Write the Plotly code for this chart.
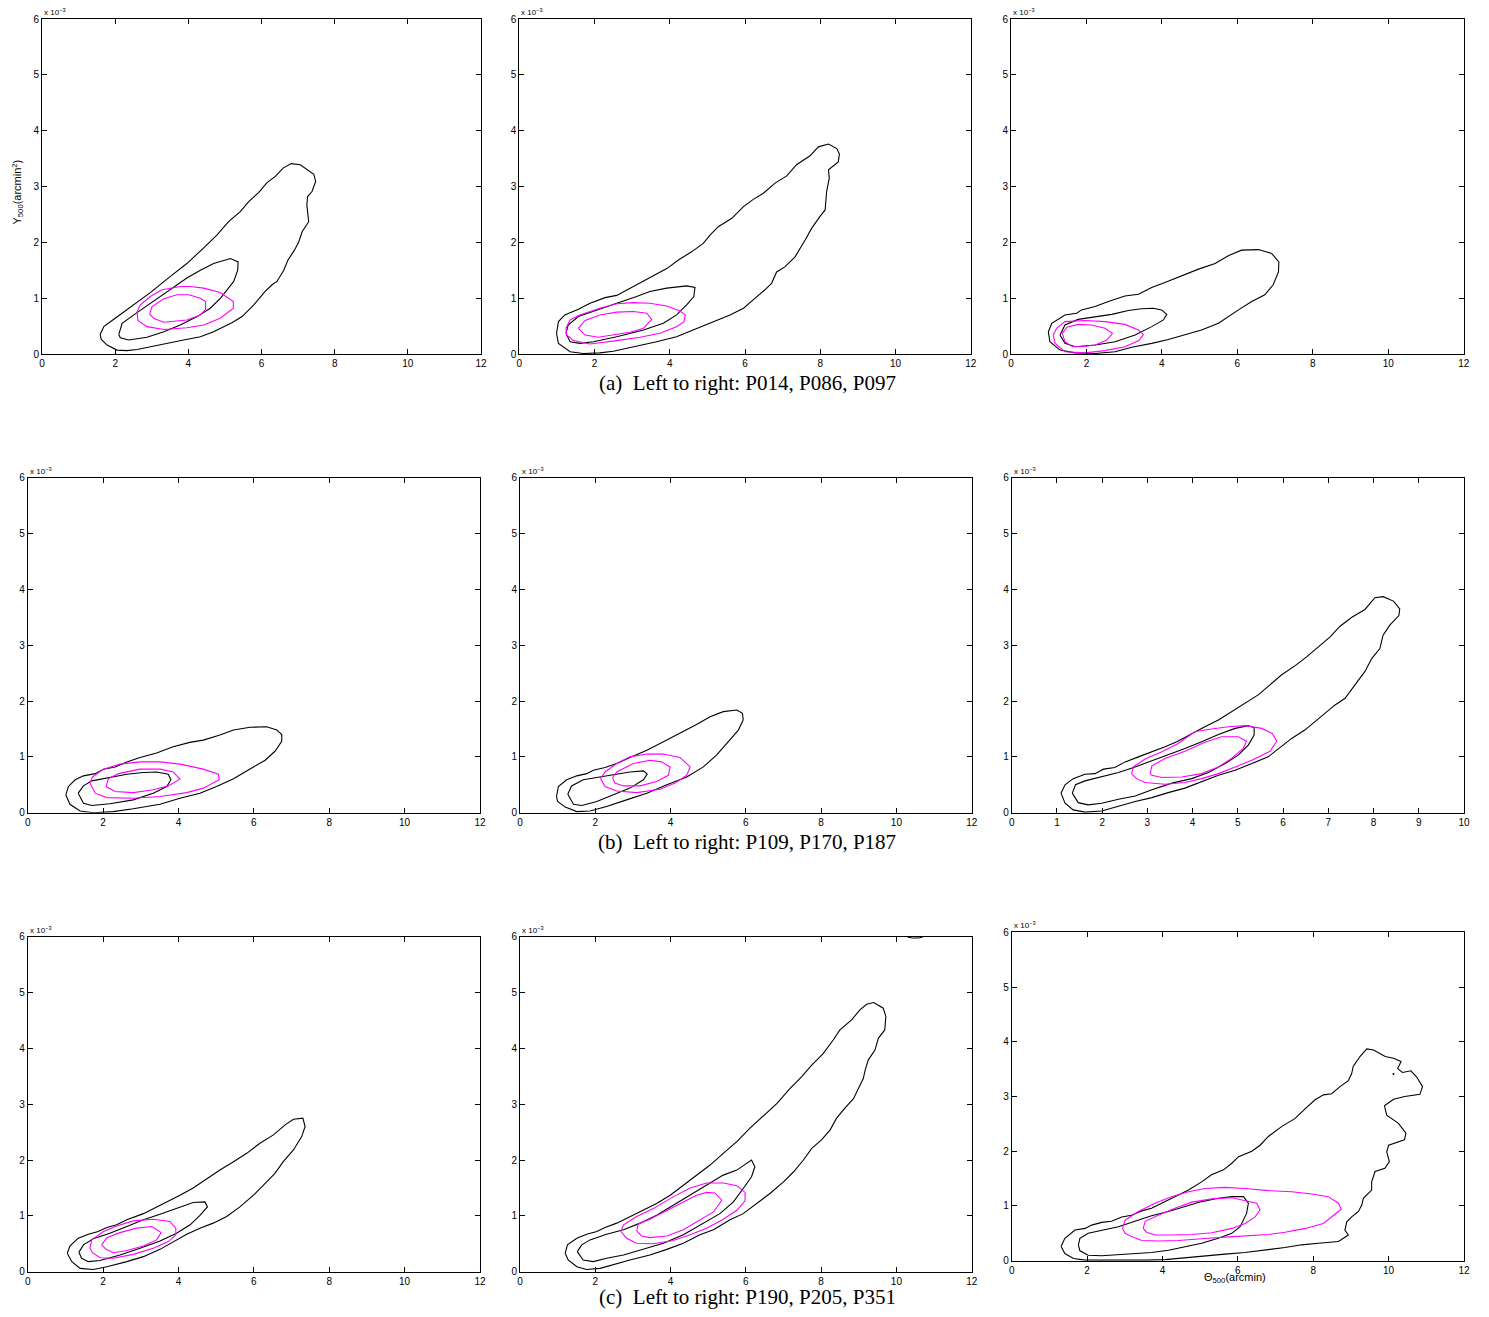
import plotly.graph_objects as go

# ---------------- DATA (theta500 [arcmin], Y500 [1e-3 arcmin^2]) ----------------
P014_black_outer = [(1.59,0.35),(1.69,0.49),(2.0,0.64),(2.51,0.88),(2.96,1.10),(3.51,1.39),(3.96,1.62),(4.37,1.87),(4.78,2.13),(5.10,2.37),(5.42,2.55),(5.65,2.73),(5.92,2.89),(6.15,3.07),(6.38,3.18),(6.59,3.33),(6.81,3.41),(7.06,3.39),(7.43,3.22),(7.48,3.09),(7.38,2.91),(7.26,2.82),(7.24,2.67),(7.29,2.37),(7.11,2.19),(7.02,2.01),(6.90,1.86),(6.72,1.68),(6.61,1.50),(6.42,1.30),(6.29,1.24),(6.10,1.12),(5.79,0.88),(5.47,0.67),(5.19,0.56),(4.69,0.40),(4.33,0.31),(3.87,0.25),(3.42,0.19),(2.96,0.14),(2.60,0.08),(2.32,0.06),(2.05,0.07),(1.78,0.16),(1.62,0.26)]
P014_black_inner = [(2.10,0.35),(2.19,0.55),(2.51,0.70),(2.96,0.90),(3.51,1.15),(3.96,1.36),(4.33,1.50),(4.69,1.62),(5.15,1.71),(5.36,1.65),(5.35,1.50),(5.24,1.30),(5.06,1.15),(4.88,1.00),(4.60,0.82),(4.24,0.67),(3.78,0.52),(3.33,0.40),(2.87,0.30),(2.37,0.25),(2.14,0.29)]
P014_mag_outer = [(2.60,0.76),(2.69,0.88),(2.96,1.03),(3.28,1.15),(3.78,1.21),(4.05,1.21),(4.42,1.18),(4.87,1.10),(5.23,0.94),(5.23,0.82),(4.87,0.64),(4.42,0.52),(3.96,0.47),(3.33,0.44),(2.87,0.49),(2.62,0.60)]
P014_mag_inner = [(2.94,0.72),(3.01,0.85),(3.33,0.99),(3.69,1.06),(4.01,1.06),(4.33,1.00),(4.47,0.94),(4.47,0.80),(4.33,0.70),(3.96,0.61),(3.33,0.57),(3.05,0.64)]

P086_black_outer = [(0.99,0.37),(1.04,0.58),(1.21,0.70),(1.57,0.80),(1.88,0.91),(2.28,1.01),(2.59,1.05),(3.03,1.21),(3.47,1.36),(3.92,1.53),(4.27,1.70),(4.58,1.83),(4.89,1.98),(5.07,2.13),(5.29,2.28),(5.65,2.43),(5.96,2.64),(6.22,2.77),(6.49,2.88),(6.80,3.06),(7.11,3.19),(7.37,3.39),(7.73,3.55),(7.95,3.71),(8.22,3.76),(8.44,3.68),(8.51,3.58),(8.48,3.44),(8.22,3.30),(8.24,3.15),(8.17,2.91),(8.13,2.58),(7.99,2.46),(7.77,2.25),(7.60,2.04),(7.33,1.74),(7.06,1.56),(6.84,1.47),(6.71,1.27),(6.53,1.15),(6.27,1.00),(5.96,0.82),(5.60,0.70),(5.16,0.58),(4.72,0.46),(4.18,0.31),(3.65,0.22),(3.03,0.13),(2.50,0.05),(2.14,0.02),(1.70,0.01),(1.35,0.04),(1.04,0.19)]
P086_black_inner = [(1.24,0.37),(1.30,0.52),(1.57,0.67),(2.06,0.79),(2.59,0.91),(3.12,1.03),(3.47,1.12),(3.92,1.18),(4.45,1.22),(4.67,1.19),(4.64,1.03),(4.45,0.88),(4.18,0.70),(3.83,0.55),(3.30,0.43),(2.59,0.31),(1.97,0.22),(1.61,0.19),(1.35,0.22)]
P086_mag_outer = [(1.24,0.46),(1.35,0.61),(1.61,0.70),(2.14,0.82),(2.59,0.90),(3.03,0.92),(3.47,0.91),(3.92,0.86),(4.27,0.77),(4.41,0.70),(4.38,0.58),(4.18,0.49),(3.74,0.37),(3.21,0.30),(2.59,0.24),(1.88,0.18),(1.44,0.24),(1.26,0.34)]
P086_mag_inner = [(1.57,0.46),(1.75,0.60),(2.14,0.70),(2.59,0.75),(3.03,0.76),(3.39,0.73),(3.52,0.62),(3.30,0.46),(2.94,0.39),(2.50,0.34),(2.10,0.30),(1.75,0.34)]

P097_black_outer = [(0.99,0.40),(1.08,0.55),(1.43,0.70),(1.74,0.73),(1.87,0.79),(2.23,0.85),(2.58,0.94),(3.02,1.04),(3.38,1.07),(3.73,1.19),(4.08,1.28),(4.52,1.40),(4.97,1.52),(5.41,1.62),(5.76,1.76),(6.11,1.86),(6.56,1.87),(6.91,1.80),(7.10,1.65),(7.09,1.47),(6.95,1.24),(6.73,1.06),(6.38,0.94),(6.03,0.79),(5.50,0.55),(5.05,0.43),(4.61,0.34),(4.17,0.26),(3.73,0.19),(3.20,0.12),(2.76,0.04),(2.23,0.01),(1.70,0.02),(1.30,0.07),(1.03,0.22)]
P097_black_inner = [(1.30,0.34),(1.43,0.52),(1.78,0.62),(2.23,0.67),(2.67,0.71),(3.11,0.78),(3.46,0.81),(3.77,0.82),(3.99,0.79),(4.13,0.71),(4.04,0.61),(3.73,0.49),(3.29,0.34),(2.76,0.22),(2.23,0.16),(1.70,0.13),(1.43,0.19)]
P097_mag_outer = [(1.12,0.34),(1.21,0.46),(1.43,0.58),(1.96,0.60),(2.49,0.58),(3.02,0.53),(3.38,0.43),(3.51,0.35),(3.39,0.24),(3.02,0.13),(2.49,0.06),(1.96,0.02),(1.43,0.04),(1.17,0.19)]
P097_mag_inner = [(1.36,0.37),(1.48,0.48),(1.78,0.53),(2.14,0.52),(2.49,0.46),(2.69,0.37),(2.54,0.25),(2.23,0.16),(1.87,0.13),(1.61,0.14),(1.43,0.22)]

P109_black_outer = [(1.01,0.32),(1.08,0.47),(1.26,0.59),(1.48,0.66),(1.79,0.70),(2.01,0.78),(2.32,0.82),(2.63,0.91),(2.98,0.99),(3.42,1.07),(3.86,1.18),(4.30,1.26),(4.66,1.30),(5.10,1.39),(5.46,1.48),(5.90,1.53),(6.34,1.54),(6.61,1.48),(6.74,1.40),(6.74,1.28),(6.56,1.10),(6.30,0.94),(5.99,0.82),(5.46,0.61),(5.01,0.47),(4.57,0.35),(4.04,0.26),(3.51,0.15),(2.80,0.07),(2.27,0.02),(1.74,0.00),(1.39,0.03),(1.12,0.15)]
P109_black_inner = [(1.34,0.35),(1.48,0.48),(1.70,0.57),(2.18,0.63),(2.63,0.69),(3.07,0.72),(3.42,0.73),(3.73,0.69),(3.80,0.59),(3.69,0.47),(3.33,0.35),(2.80,0.23),(2.18,0.16),(1.70,0.13),(1.48,0.17)]
P109_mag_outer = [(1.65,0.53),(1.72,0.64),(2.01,0.78),(2.45,0.87),(2.98,0.91),(3.51,0.91),(4.04,0.87),(4.66,0.78),(5.06,0.69),(5.08,0.59),(4.66,0.44),(4.22,0.36),(3.51,0.29),(2.80,0.26),(2.10,0.27),(1.79,0.35)]
P109_mag_inner = [(2.08,0.47),(2.14,0.61),(2.41,0.70),(2.98,0.78),(3.51,0.78),(3.86,0.73),(4.04,0.60),(3.73,0.48),(3.33,0.41),(2.80,0.36),(2.32,0.38)]

P170_black_outer = [(0.97,0.29),(1.02,0.47),(1.24,0.59),(1.51,0.66),(1.77,0.70),(1.95,0.76),(2.26,0.81),(2.57,0.88),(2.92,0.99),(3.37,1.12),(3.81,1.27),(4.25,1.42),(4.69,1.58),(5.05,1.72),(5.40,1.81),(5.76,1.84),(5.91,1.78),(5.93,1.66),(5.80,1.48),(5.53,1.27),(5.22,1.03),(4.87,0.82),(4.43,0.64),(3.90,0.50),(3.37,0.35),(2.83,0.23),(2.30,0.11),(1.86,0.03),(1.51,0.02),(1.20,0.10),(1.00,0.20)]
P170_black_inner = [(1.27,0.33),(1.37,0.48),(1.68,0.59),(2.13,0.64),(2.57,0.70),(2.92,0.73),(3.28,0.75),(3.38,0.69),(3.28,0.59),(2.92,0.44),(2.48,0.32),(2.04,0.20),(1.64,0.13),(1.42,0.15)]
P170_mag_outer = [(2.14,0.61),(2.26,0.73),(2.57,0.88),(2.92,1.00),(3.37,1.05),(3.81,1.05),(4.25,0.99),(4.52,0.82),(4.43,0.67),(4.12,0.53),(3.72,0.42),(3.10,0.36),(2.57,0.39),(2.26,0.47)]
P170_mag_inner = [(2.46,0.63),(2.57,0.73),(3.01,0.88),(3.45,0.94),(3.76,0.91),(3.99,0.82),(3.94,0.67),(3.63,0.56),(3.19,0.48),(2.75,0.48),(2.52,0.53)]

P187_black_outer = [(1.09,0.35),(1.18,0.50),(1.36,0.61),(1.62,0.69),(1.84,0.70),(2.03,0.78),(2.28,0.81),(2.51,0.91),(2.80,1.00),(3.10,1.09),(3.39,1.18),(3.65,1.27),(3.98,1.42),(4.27,1.54),(4.57,1.66),(4.86,1.81),(5.16,1.96),(5.45,2.11),(5.71,2.29),(5.97,2.47),(6.26,2.63),(6.52,2.79),(6.78,2.97),(7.04,3.15),(7.26,3.34),(7.52,3.50),(7.81,3.64),(8.03,3.85),(8.21,3.87),(8.44,3.79),(8.58,3.65),(8.56,3.53),(8.36,3.36),(8.21,3.18),(8.14,2.94),(7.96,2.76),(7.81,2.53),(7.59,2.29),(7.37,2.05),(7.15,1.93),(6.93,1.78),(6.71,1.63),(6.48,1.48),(6.19,1.33),(5.90,1.15),(5.67,1.00),(5.31,0.88),(4.94,0.76),(4.57,0.67),(4.20,0.56),(3.83,0.44),(3.46,0.36),(3.10,0.27),(2.73,0.20),(2.36,0.11),(1.99,0.03),(1.62,0.01),(1.36,0.05),(1.18,0.17)]
P187_black_inner = [(1.34,0.35),(1.41,0.50),(1.62,0.57),(1.99,0.64),(2.36,0.72),(2.73,0.82),(3.10,0.93),(3.46,1.03),(3.83,1.15),(4.20,1.27),(4.57,1.40),(4.94,1.51),(5.23,1.56),(5.36,1.52),(5.36,1.39),(5.23,1.21),(5.01,1.03),(4.72,0.88),(4.35,0.72),(3.98,0.61),(3.54,0.53),(3.10,0.41),(2.73,0.30),(2.36,0.24),(1.99,0.17),(1.69,0.14),(1.47,0.18)]
P187_mag_outer = [(2.65,0.70),(2.69,0.82),(2.95,0.96),(3.32,1.09),(3.68,1.24),(4.05,1.45),(4.42,1.50),(4.79,1.54),(5.16,1.56),(5.53,1.51),(5.76,1.42),(5.86,1.28),(5.71,1.10),(5.31,0.94),(4.94,0.82),(4.57,0.70),(4.20,0.61),(3.83,0.54),(3.39,0.51),(2.95,0.54),(2.76,0.61)]
P187_mag_inner = [(3.06,0.70),(3.10,0.84),(3.39,0.97),(3.83,1.10),(4.27,1.26),(4.64,1.36),(5.01,1.36),(5.19,1.28),(5.12,1.15),(4.86,0.97),(4.57,0.82),(4.20,0.70),(3.76,0.64),(3.32,0.63),(3.10,0.67)]

P190_black_outer = [(1.05,0.33),(1.12,0.46),(1.34,0.60),(1.61,0.67),(1.87,0.72),(2.10,0.79),(2.36,0.84),(2.63,0.93),(3.07,1.04),(3.33,1.13),(3.69,1.24),(4.04,1.37),(4.39,1.50),(4.75,1.67),(5.10,1.82),(5.46,1.97),(5.81,2.12),(6.16,2.30),(6.52,2.45),(6.83,2.63),(7.05,2.73),(7.30,2.75),(7.36,2.60),(7.27,2.42),(7.05,2.18),(6.78,1.97),(6.56,1.76),(6.30,1.58),(5.99,1.37),(5.63,1.16),(5.28,0.99),(4.92,0.87),(4.57,0.78),(4.22,0.67),(3.86,0.54),(3.51,0.40),(3.07,0.27),(2.63,0.18),(2.10,0.09),(1.74,0.04),(1.39,0.06),(1.17,0.18)]
P190_black_inner = [(1.36,0.35),(1.48,0.48),(1.74,0.59),(2.18,0.69),(2.63,0.81),(3.07,0.93),(3.51,1.03),(3.95,1.13),(4.39,1.24),(4.70,1.25),(4.77,1.16),(4.57,1.01),(4.31,0.84),(3.95,0.69),(3.51,0.55),(2.98,0.42),(2.45,0.30),(1.92,0.20),(1.61,0.18),(1.43,0.24)]
P190_mag_outer = [(1.65,0.42),(1.70,0.57),(2.01,0.72),(2.36,0.82),(2.80,0.91),(3.33,0.94),(3.77,0.90),(3.93,0.78),(3.93,0.66),(3.73,0.54),(3.33,0.42),(2.80,0.31),(2.27,0.24),(1.92,0.25),(1.72,0.34)]
P190_mag_inner = [(1.96,0.48),(2.10,0.61),(2.45,0.70),(2.89,0.78),(3.29,0.81),(3.54,0.70),(3.42,0.57),(3.07,0.46),(2.63,0.38),(2.27,0.34),(2.08,0.40)]

P205_black_outer = [(1.20,0.33),(1.26,0.48),(1.51,0.60),(1.77,0.67),(2.04,0.72),(2.26,0.79),(2.57,0.87),(2.92,0.99),(3.28,1.10),(3.63,1.22),(3.99,1.37),(4.34,1.55),(4.69,1.73),(5.05,1.91),(5.40,2.12),(5.76,2.33),(6.11,2.57),(6.46,2.78),(6.82,3.01),(7.17,3.28),(7.48,3.49),(7.75,3.70),(8.06,3.91),(8.32,4.15),(8.50,4.33),(8.81,4.51),(9.03,4.69),(9.21,4.79),(9.40,4.82),(9.65,4.72),(9.72,4.57),(9.69,4.33),(9.52,4.18),(9.43,3.97),(9.25,3.79),(9.17,3.61),(9.12,3.46),(8.99,3.28),(8.86,3.10),(8.63,2.93),(8.41,2.75),(8.24,2.54),(8.01,2.36),(7.75,2.21),(7.53,2.00),(7.27,1.79),(7.00,1.61),(6.64,1.40),(6.29,1.22),(5.93,1.04),(5.58,0.93),(5.14,0.75),(4.78,0.66),(4.34,0.51),(3.90,0.40),(3.45,0.30),(2.92,0.21),(2.48,0.13),(2.13,0.06),(1.77,0.04),(1.51,0.09),(1.28,0.21)]
P205_black_inner = [(1.52,0.36),(1.64,0.48),(1.86,0.57),(2.30,0.67),(2.75,0.75),(3.19,0.87),(3.63,1.01),(4.07,1.19),(4.52,1.36),(4.96,1.55),(5.40,1.73),(5.76,1.82),(6.02,1.94),(6.15,2.00),(6.24,1.88),(6.15,1.70),(5.93,1.49),(5.67,1.25),(5.31,1.04),(4.87,0.87),(4.34,0.66),(3.81,0.51),(3.28,0.40),(2.75,0.30),(2.30,0.24),(1.95,0.18),(1.68,0.21)]
P205_mag_outer = [(2.68,0.72),(2.75,0.84),(3.10,0.99),(3.54,1.13),(4.07,1.34),(4.52,1.50),(4.96,1.59),(5.40,1.59),(5.76,1.54),(5.98,1.42),(5.98,1.27),(5.76,1.10),(5.40,0.94),(4.96,0.78),(4.52,0.66),(4.07,0.56),(3.54,0.50),(3.10,0.51),(2.83,0.60)]
P205_mag_inner = [(3.10,0.73),(3.14,0.85),(3.45,0.94),(3.90,1.09),(4.34,1.25),(4.69,1.37),(4.96,1.42),(5.18,1.41),(5.36,1.28),(5.14,1.07),(4.78,0.93),(4.34,0.75),(3.90,0.64),(3.45,0.61),(3.23,0.64)]
P205_black_fragment = [(10.30,5.99),(10.45,5.975),(10.62,5.98),(10.70,5.995)]

P351_black_outer = [(1.31,0.26),(1.41,0.41),(1.68,0.56),(1.95,0.59),(2.12,0.65),(2.39,0.70),(2.65,0.72),(2.92,0.80),(3.18,0.83),(3.45,0.91),(3.71,0.96),(3.98,1.05),(4.33,1.17),(4.69,1.29),(5.04,1.44),(5.30,1.57),(5.62,1.66),(5.84,1.78),(6.02,1.90),(6.37,2.00),(6.59,2.11),(6.81,2.27),(7.16,2.45),(7.52,2.60),(7.79,2.78),(8.05,2.94),(8.27,3.03),(8.49,3.05),(8.71,3.18),(8.93,3.29),(9.02,3.42),(9.06,3.55),(9.24,3.73),(9.42,3.87),(9.60,3.85),(9.91,3.73),(10.13,3.70),(10.33,3.64),(10.24,3.51),(10.37,3.44),(10.59,3.47),(10.74,3.36),(10.90,3.18),(10.83,3.04),(10.43,3.00),(10.13,2.95),(9.89,2.83),(9.95,2.66),(10.26,2.51),(10.46,2.33),(10.42,2.21),(10.26,2.17),(10.00,2.11),(9.95,1.99),(10.02,1.81),(9.90,1.69),(9.64,1.63),(9.55,1.44),(9.55,1.29),(9.33,1.14),(9.29,1.02),(9.20,0.90),(9.02,0.80),(8.89,0.71),(8.84,0.56),(8.93,0.47),(8.80,0.41),(8.67,0.35),(8.14,0.32),(7.69,0.29),(7.25,0.24),(6.72,0.19),(6.19,0.15),(5.66,0.12),(5.13,0.09),(4.60,0.06),(4.07,0.02),(3.54,0.01),(3.01,0.01),(2.48,0.01),(1.95,0.01),(1.64,0.04),(1.41,0.13)]
P351_black_inner = [(1.77,0.29),(1.81,0.41),(2.03,0.50),(2.39,0.56),(2.83,0.62),(3.27,0.72),(3.71,0.82),(4.16,0.90),(4.60,0.99),(5.04,1.08),(5.48,1.14),(5.84,1.17),(6.15,1.17),(6.28,1.05),(6.23,0.86),(6.06,0.62),(5.84,0.50),(5.48,0.41),(5.04,0.32),(4.60,0.26),(4.16,0.19),(3.71,0.15),(3.27,0.13),(2.83,0.10),(2.39,0.09),(2.03,0.10),(1.81,0.18)]
P351_mag_outer = [(2.94,0.59),(3.01,0.74),(3.36,0.90),(3.80,1.05),(4.24,1.17),(4.69,1.26),(5.13,1.32),(5.66,1.34),(6.19,1.32),(6.81,1.28),(7.43,1.26),(7.96,1.22),(8.40,1.17),(8.67,1.05),(8.74,0.94),(8.53,0.82),(8.27,0.68),(7.79,0.59),(7.25,0.52),(6.81,0.48),(6.19,0.46),(5.66,0.43),(5.04,0.40),(4.42,0.37),(3.89,0.36),(3.45,0.37),(3.18,0.44),(3.01,0.50)]
P351_mag_inner = [(3.49,0.59),(3.54,0.72),(3.89,0.83),(4.33,0.96),(4.78,1.07),(5.31,1.13),(5.84,1.15),(6.28,1.09),(6.50,1.05),(6.59,0.93),(6.46,0.80),(6.19,0.68),(5.84,0.59),(5.31,0.51),(4.78,0.48),(4.24,0.47),(3.80,0.47),(3.58,0.52)]
P351_dot = [(10.13,3.41)]

x_ticks_12 = [0, 2, 4, 6, 8, 10, 12]
x_ticks_10 = [0, 1, 2, 3, 4, 5, 6, 7, 8, 9, 10]
y_ticks = [0, 1, 2, 3, 4, 5, 6]

captions = ["(a)\u00a0 Left to right: P014, P086, P097",
            "(b)\u00a0 Left to right: P109, P170, P187",
            "(c)\u00a0 Left to right: P190, P205, P351"]

# ---------------- FIGURE ----------------
# the page body adds an 8 px margin; size the figure so page == window
OFF = 8
W, H = 1489 - 2 * OFF, 1317 - 2 * OFF

def fx(px):
    return (px - OFF) / W

def fy(py):
    return 1 - (py - OFF) / H

panels = [
    dict(cont=[P014_black_outer, P014_black_inner, P014_mag_outer, P014_mag_inner], xr=12, xp=(42, 481), yp=(19, 354)),
    dict(cont=[P086_black_outer, P086_black_inner, P086_mag_outer, P086_mag_inner], xr=12, xp=(519.3, 970.7), yp=(19, 354)),
    dict(cont=[P097_black_outer, P097_black_inner, P097_mag_outer, P097_mag_inner], xr=12, xp=(1011, 1463.7), yp=(19, 354)),
    dict(cont=[P109_black_outer, P109_black_inner, P109_mag_outer, P109_mag_inner], xr=12, xp=(27.7, 480), yp=(477.7, 812.7)),
    dict(cont=[P170_black_outer, P170_black_inner, P170_mag_outer, P170_mag_inner], xr=12, xp=(520, 971.7), yp=(477.7, 812.7)),
    dict(cont=[P187_black_outer, P187_black_inner, P187_mag_outer, P187_mag_inner], xr=10, xp=(1011.7, 1464), yp=(477.7, 812.7)),
    dict(cont=[P190_black_outer, P190_black_inner, P190_mag_outer, P190_mag_inner], xr=12, xp=(27.7, 480), yp=(936.7, 1271.7)),
    dict(cont=[P205_black_outer, P205_black_inner, P205_mag_outer, P205_mag_inner], xr=12, xp=(520, 971.7), yp=(936.7, 1271.7)),
    dict(cont=[P351_black_outer, P351_black_inner, P351_mag_outer, P351_mag_inner], xr=12, xp=(1011.7, 1464), yp=(932.3, 1260.7)),
]

fig = go.Figure()
layout = dict(width=W, height=H, margin=dict(l=0, r=0, t=0, b=0, pad=0, autoexpand=False),
              paper_bgcolor="white", plot_bgcolor="white", showlegend=False, template="none")
annotations = []
sans = "Liberation Sans, Arial, Helvetica, sans-serif"
tickfont = dict(family=sans, size=10, color="black")

for i, p in enumerate(panels):
    n = i + 1
    xa = "x" if n == 1 else f"x{n}"
    ya = "y" if n == 1 else f"y{n}"
    for j, c in enumerate(p["cont"]):
        pts = c + [c[0]]
        color = "black" if j < 2 else "#ff00ff"
        fig.add_trace(go.Scatter(x=[q[0] for q in pts], y=[q[1] for q in pts], mode="lines",
                                 line=dict(color=color, width=1.1), xaxis=xa, yaxis=ya,
                                 hoverinfo="skip"))
    if n == 8:
        fig.add_trace(go.Scatter(x=[q[0] for q in P205_black_fragment], y=[q[1] for q in P205_black_fragment],
                                 mode="lines", line=dict(color="black", width=1), xaxis=xa, yaxis=ya,
                                 cliponaxis=False, hoverinfo="skip"))
    if n == 9:
        fig.add_trace(go.Scatter(x=[q[0] for q in P351_dot], y=[q[1] for q in P351_dot], mode="markers",
                                 marker=dict(color="black", size=2), xaxis=xa, yaxis=ya, hoverinfo="skip"))
    xt = x_ticks_10 if p["xr"] == 10 else x_ticks_12
    axcommon = dict(showline=True, mirror="ticks", linecolor="black", linewidth=1,
                    ticks="inside", ticklen=5, tickwidth=1, tickcolor="black", automargin=False,
                    showgrid=False, zeroline=False, tickfont=tickfont, fixedrange=True)
    layout["xaxis" if n == 1 else f"xaxis{n}"] = dict(
        domain=[fx(p["xp"][0]), fx(p["xp"][1])], range=[0, p["xr"]], tickvals=xt,
        ticktext=[str(v) for v in xt], anchor=ya, **axcommon)
    layout["yaxis" if n == 1 else f"yaxis{n}"] = dict(
        domain=[fy(p["yp"][1]), fy(p["yp"][0])], range=[0, 6], tickvals=y_ticks,
        ticktext=[str(v) for v in y_ticks], anchor=xa, **axcommon)
    # exponent label
    annotations.append(dict(x=fx(p["xp"][0]), y=fy(p["yp"][0]), xref="paper", yref="paper",
                            xanchor="left", yanchor="bottom", showarrow=False,
                            text="x 10<sup>\u22123</sup>",
                            font=dict(family=sans, size=8, color="black")))

# axis titles
annotations.append(dict(x=fx(17.5), y=fy(192), xref="paper", yref="paper", showarrow=False,
                        xanchor="center", yanchor="middle",
                        textangle=-90, text="Y<sub>500</sub>(arcmin<sup>2</sup>)",
                        font=dict(family=sans, size=11, color="black")))
annotations.append(dict(x=fx(1234.5), y=fy(1278), xref="paper", yref="paper", showarrow=False,
                        xanchor="center", yanchor="middle",
                        text="\u0398<sub>500</sub>(arcmin)",
                        font=dict(family=sans, size=11, color="black")))
# captions
for cap, cy in zip(captions, [383, 841.5, 1297]):
    annotations.append(dict(x=fx(747), y=fy(cy), xref="paper", yref="paper", showarrow=False,
                            xanchor="center", yanchor="middle", text=cap,
                            font=dict(family="Liberation Serif, Times New Roman, serif", size=21, color="black")))

layout["annotations"] = annotations
fig.update_layout(**layout)
fig.write_html("out.html")
